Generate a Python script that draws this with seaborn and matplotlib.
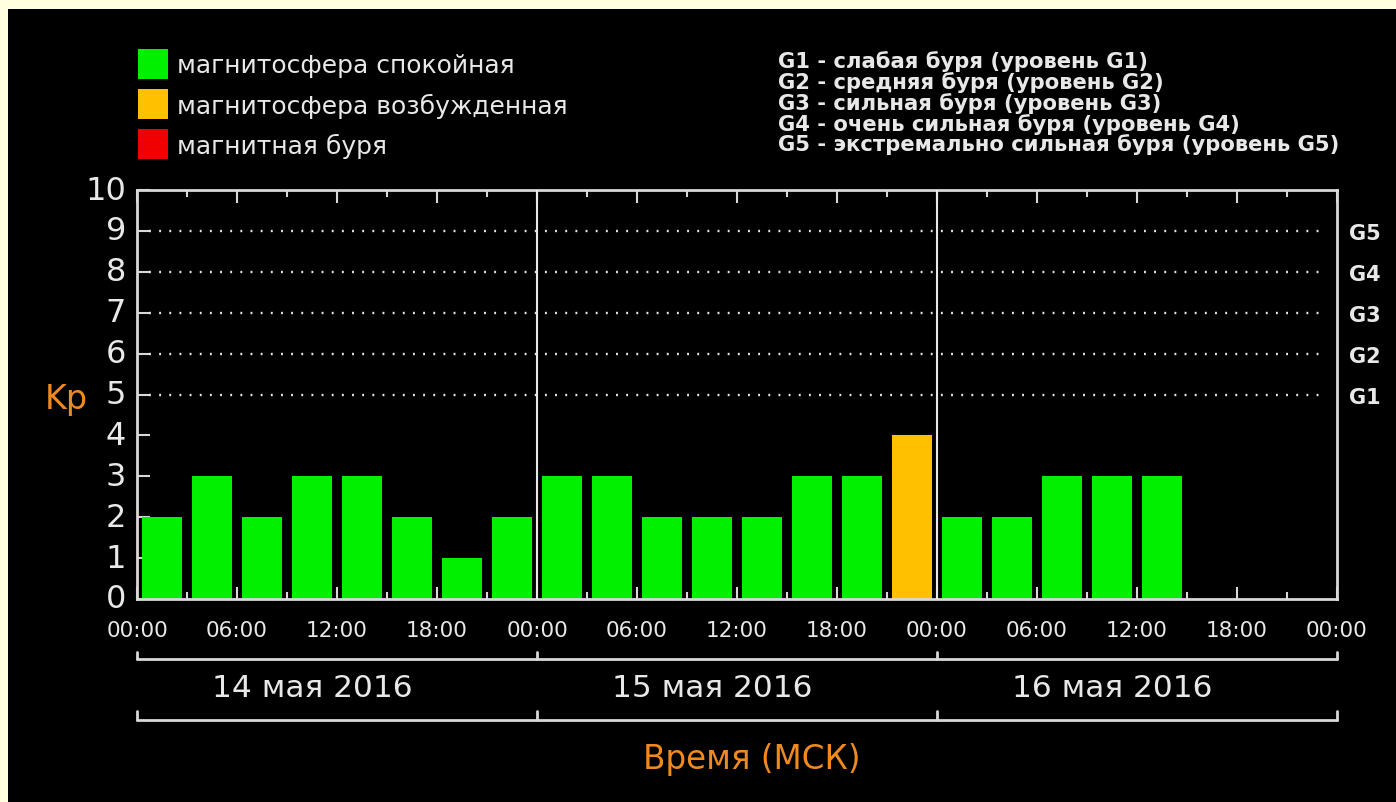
import matplotlib
matplotlib.use("Agg")
import matplotlib.pyplot as plt
import matplotlib.transforms as mtransforms
from matplotlib.patches import Rectangle
import seaborn as sns
import pandas as pd
import numpy as np

# ---- data ----
slot_hours = [1.5, 4.5, 7.5, 10.5, 13.5, 16.5, 19.5, 22.5,
              25.5, 28.5, 31.5, 34.5, 37.5, 40.5, 43.5, 46.5,
              49.5, 52.5, 55.5, 58.5, 61.5]
kp_values = [2, 3, 2, 3, 3, 2, 1, 2,
             3, 3, 2, 2, 2, 3, 3, 4,
             2, 2, 3, 3, 3]
status = ["calm"] * 15 + ["excited"] + ["calm"] * 5
day_labels = ["14 мая 2016", "15 мая 2016", "16 мая 2016"]
time_labels = ["00:00", "06:00", "12:00", "18:00"] * 3 + ["00:00"]
g_labels = ["G1", "G2", "G3", "G4", "G5"]
g_levels = [5, 6, 7, 8, 9]
legend_labels = ["магнитосфера спокойная", "магнитосфера возбужденная", "магнитная буря"]
storm_lines = ["G1 - слабая буря (уровень G1)",
               "G2 - средняя буря (уровень G2)",
               "G3 - сильная буря (уровень G3)",
               "G4 - очень сильная буря (уровень G4)",
               "G5 - экстремально сильная буря (уровень G5)"]

GREEN = "#00F000"
ORANGE = "#FFC000"
RED = "#F00000"
palette = {"calm": GREEN, "excited": ORANGE, "storm": RED}
FG = "#E8E8E8"
LABEL_ORANGE = "#F08A1E"

sns.set_theme(style="dark")
plt.rcParams['font.family'] = ['DejaVu Sans']

W, H = 1396, 803
fig = plt.figure(figsize=(W / 100, H / 100), dpi=100, facecolor="#FFFFE0")
# black panel
fig.patches.append(Rectangle((8 / W, 0), 1 - 8 / W, 1 - 10 / H, transform=fig.transFigure,
                             facecolor="black", edgecolor="none", zorder=-5))

def fx(px):
    return px / W

def fy(py):
    return 1 - py / H

ax = fig.add_axes([fx(137), fy(600), fx(1337) - fx(137), fy(191) - fy(600)])
ax.set_facecolor("black")
ax.set_zorder(2)

df = pd.DataFrame({"hour": slot_hours, "kp": kp_values, "status": status})
sns.barplot(data=df, x="hour", y="kp", hue="status", palette=palette, native_scale=True,
            dodge=False, width=0.8, ax=ax, legend=False, saturation=1, linewidth=0)

ax.set_xlim(0, 72)
ax.set_ylim(0, 10)

# dotted gridlines at G levels
for lv in g_levels:
    ax.axhline(lv, xmin=0.01, xmax=0.99, color=FG, lw=1.7, linestyle=(0, (0.8, 3.5)), zorder=1)
# day separators
for d in [24, 48]:
    ax.axvline(d, color=FG, lw=1.5, zorder=3)

for sp in ax.spines.values():
    sp.set_color("#D8D8D8")
    sp.set_linewidth(2)
    sp.set_visible(True)

ax.set_xticks(np.arange(0, 73, 6))
ax.set_xticklabels(time_labels)
ax.set_xticks(np.arange(3, 72, 6), minor=True)
ax.set_yticks(range(0, 11))
ax.set_yticklabels([str(i) for i in range(0, 11)])
ax.tick_params(axis="x", which="major", direction="in", length=9, width=1.5, color="#D8D8D8",
               top=True, bottom=True, labelsize=15.5, labelcolor=FG, pad=15)
ax.tick_params(axis="x", which="minor", direction="in", length=5, width=1.5, color="#D8D8D8",
               top=True, bottom=True)
ax.tick_params(axis="y", direction="in", length=9, width=1.5, color="#D8D8D8",
               left=True, right=True, labelsize=23, labelcolor=FG, pad=8)
for lbl in ax.get_yticklabels():
    lbl.set_verticalalignment("center")
ax.set_xlabel("")
ax.set_ylabel("")
ax.grid(False)

# right G labels
ax2 = ax.twinx()
ax2.set_zorder(3)
ax2.patch.set_visible(False)
ax2.set_ylim(0, 10)
ax2.set_yticks(g_levels)
ax2.set_yticklabels(g_labels, fontweight="bold")
ax2.tick_params(axis="y", length=0, labelsize=15, labelcolor=FG, pad=9)
for sp in ax2.spines.values():
    sp.set_visible(False)
ax2.grid(False)

# Kp label
fig.text(fx(66), fy(400), "Kp", color=LABEL_ORANGE, fontsize=24, ha="center", va="center")

# brackets and day labels
bt = mtransforms.blended_transform_factory(ax.transData, fig.transFigure)
for ytop, ybot in [(fy(653), fy(660)), (fy(712), fy(721))]:
    ax.plot([0, 72], [ybot, ybot], color="#D8D8D8", lw=2, transform=bt, clip_on=False)
    for d in [0, 24, 48, 72]:
        ax.plot([d, d], [ytop, ybot], color="#D8D8D8", lw=2, transform=bt, clip_on=False)
for i, lab in enumerate(day_labels):
    ax.text(i * 24 + 10.5, fy(689), lab, transform=bt, color=FG, fontsize=22.5,
            ha="center", va="center")

fig.text(fx(752), fy(760), "Время (МСК)", color=LABEL_ORANGE, fontsize=23.5,
         ha="center", va="center")

# legend squares
for i, (lab, col) in enumerate(zip(legend_labels, [GREEN, ORANGE, RED])):
    top = 50 + i * 40
    fig.patches.append(Rectangle((fx(138), fy(top + 30)), fx(30), 30 / H,
                                 transform=fig.transFigure, facecolor=col, edgecolor="none"))
    fig.text(fx(177), fy(top + 16), lab, color=FG, fontsize=18, ha="left", va="center")

for i, line in enumerate(storm_lines):
    fig.text(fx(778), fy(62 + i * 20.7), line, color=FG, fontsize=15.2, fontweight="bold",
             ha="left", va="center", family=["DejaVu Sans Condensed", "DejaVu Sans"])

fig.savefig("out.png", dpi=100, facecolor=fig.get_facecolor())
